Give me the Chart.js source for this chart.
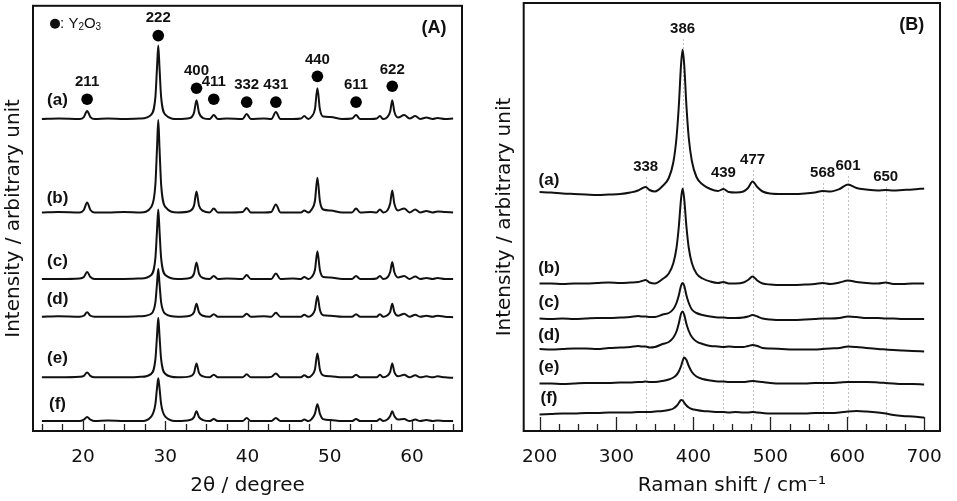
<!DOCTYPE html>
<html lang="en">

<head>
    <meta charset="UTF-8">
    <title>XRD patterns and Raman spectra</title>
    <script src="https://cdn.jsdelivr.net/npm/chart.js"></script>
    <style>
        html, body { margin: 0; padding: 0; background: #fff; }
        .panel { position: absolute; top: 0; height: 501px; }
        #panelA { left: 0; width: 478px; }
        #panelB { left: 478px; width: 479px; }
    </style>
</head>

<body>
    <div class="panel" id="panelA"><canvas id="xrdChart"></canvas></div>
    <div class="panel" id="panelB"><canvas id="ramanChart"></canvas></div>

    <script>
        // ---- (A) XRD, 2theta in degrees, intensity in arbitrary units ----
        const xrdAngle = [15, 17, 19.6, 20.1, 20.5, 20.9, 21.4, 23, 25, 27,
            28.3, 28.8, 29.0, 29.15, 29.3, 29.5, 30.0, 31.5, 33.0, 33.5,
            33.8, 34.1, 34.6, 35.4, 35.9, 36.4, 37.5, 39.4, 39.9, 40.4,
            42, 42.9, 43.45, 44.0, 45.5, 46.5, 46.9, 47.4, 47.8, 48.2,
            48.5, 48.8, 49.2, 50.1, 51.5, 52.7, 53.2, 53.7, 55, 55.7,
            56.1, 56.5, 57.0, 57.35, 57.6, 57.85, 58.3, 59.05, 59.7, 60.4,
            61.0, 61.75, 62.5, 63.1, 64, 65];

        const xrdA = [314, 314.5, 314, 316, 322, 316, 314, 314.5, 314, 314.5,
            318.5, 336, 366, 388, 366, 336, 318.5, 314, 315, 320.5,
            333, 320.5, 315, 314, 318, 314, 314.5, 314, 319, 314,
            314.5, 314, 321, 314, 314, 314.5, 317, 314, 316.5, 324,
            345, 324, 316.5, 316, 314, 314.5, 318, 314, 314, 314.5,
            317, 314, 316, 321.5, 333, 321.5, 315.5, 318, 314.5, 317,
            314, 315.5, 314, 315, 314, 314.5];
        const xrdB = [220, 220.5, 220, 222.5, 230, 222.5, 220, 220, 220.5, 220,
            225.5, 248, 285, 313, 285, 248, 225.5, 220, 221.5, 227,
            241, 227, 221.5, 220, 224, 220, 220, 220.5, 224.5, 220,
            220, 220.5, 228, 220, 220, 220, 222, 220, 223, 231.5,
            255, 231.5, 223, 222, 220, 220, 224, 220, 220.5, 220,
            223, 220, 222, 229, 242, 229, 222, 224, 220, 223,
            220, 221.5, 220, 221, 220.5, 220];
        const xrdC = [153, 153, 153.5, 155, 160, 155, 153, 153, 153, 153.5,
            157, 174, 202, 223, 202, 174, 157, 153, 154, 158.5,
            169.5, 158.5, 154, 153, 156, 153, 153.5, 153, 157, 153,
            153, 153, 158.5, 153, 153.5, 153, 155, 153, 155, 162,
            181, 162, 155, 154.5, 153, 153, 156, 153, 153, 153.5,
            156, 153, 154.5, 160, 170, 160, 154.5, 156, 153, 155.5,
            153, 154, 153, 154, 153, 153];
        const xrdD = [115, 115.5, 115, 116, 119.5, 116, 115, 115, 115, 115.5,
            118, 129.5, 148.5, 163, 148.5, 129.5, 118, 115, 116, 119.5,
            128, 119.5, 116, 115, 117.5, 115, 115, 115, 118, 115,
            115.5, 115, 119, 115, 115, 115, 117, 115, 116.5, 122,
            136, 122, 116.5, 116, 115, 115, 117.5, 115, 115, 115,
            117.5, 115, 116.5, 120, 128, 120, 116, 118, 115, 117,
            115, 116, 115, 116, 115, 114.5];
        const xrdE = [54, 54, 54.5, 55.5, 59, 55.5, 54, 54, 54, 54.5,
            57.5, 72, 96, 114, 96, 72, 57.5, 54, 55, 58.5,
            68, 58.5, 55, 54, 56.5, 54, 54, 54, 57, 54,
            54, 54.5, 58, 54, 54, 54, 56, 54, 56, 62,
            78, 62, 56, 55, 54, 54, 56.5, 54, 54, 54,
            56.5, 54, 55.5, 59.5, 68, 59.5, 55, 56.5, 54, 56,
            54, 55, 54, 55, 54, 53.5];
        const xrdF = [10, 10, 10, 11.5, 14, 11.5, 10, 10.5, 10, 10,
            14.5, 27, 43.5, 53, 43.5, 27, 14.5, 10, 11, 14,
            20, 14, 11, 10, 12, 10, 10, 10, 13, 10,
            10, 10, 13, 10, 10, 10, 11.5, 10, 12, 17.5,
            27, 17.5, 12, 11, 10, 10, 12, 10, 10, 10,
            12, 10, 11.5, 15, 20, 15, 11.5, 12, 10, 11.5,
            10, 11, 10, 10.5, 10, 10];

        const xrdTicks = [20, 30, 40, 50, 60];
        const xrdPeakPos = [20.5, 29.15, 33.8, 35.9, 39.9, 43.45, 48.5, 53.2, 57.6];
        const xrdPeakHkl = ['211', '222', '400', '411', '332', '431', '440', '611', '622'];
        const xrdDotY = [334, 398, 345, 334, 331, 331, 357, 331, 347];
        const xrdLabelY = [351, 416, 363, 351, 348, 348, 374, 348, 364];
        const sampleNames = ['(a)', '(b)', '(c)', '(d)', '(e)', '(f)'];
        const xrdSampleY = [333, 234, 171, 133, 73, 27];
        const legendParts = [[': Y', false], ['2', true], ['O', false], ['3', true]];

        // ---- (B) Raman, shift in cm-1 ----
        const ramanShift = [200, 215, 230, 245, 260, 275, 290, 305, 318, 328,
            333, 338, 343, 350, 360, 368, 374, 378, 381, 384,
            386, 388, 391, 394, 398, 404, 412, 422, 432, 439,
            446, 455, 465, 471, 477, 483, 490, 500, 515, 530,
            545, 558, 568, 578, 590, 601, 612, 625, 640, 650,
            660, 672, 685, 700];

        const ramanA = [239, 238.5, 237.5, 237, 236.5, 236, 236.5, 237, 238.5, 240.5,
            242.5, 244, 241, 239.5, 245, 253, 269, 293, 324.5, 367,
            381.5, 367, 324.5, 293, 270, 254, 246.5, 242, 240, 242,
            239, 238.5, 239.5, 243, 249.5, 244, 239.5, 237.5, 237, 237,
            237.5, 238.5, 240, 239.5, 242, 246.5, 243, 241.5, 240.5, 241,
            240.5, 241, 241.5, 242.5];
        const ramanB = [147.5, 147.5, 147, 147.5, 147.5, 148, 148.5, 148, 148.5, 149,
            150, 151, 148.5, 147.5, 152, 157.5, 168, 183, 204, 232.5,
            242.5, 232.5, 204, 183, 168, 157.5, 152.5, 149.5, 148, 149,
            147.5, 147.5, 148.5, 151, 154.5, 150.5, 147.5, 146.5, 146, 146,
            146.5, 147, 148, 147, 148.5, 150.5, 149, 148, 147.5, 148.5,
            147, 147, 147.5, 147.5];
        const ramanC = [112.5, 112, 112.5, 112, 112.5, 113, 113, 113.5, 114, 115,
            114.5, 114.5, 114, 114, 116.5, 118, 122, 128, 135.5, 145.5,
            148, 145.5, 135.5, 128, 121.5, 118, 116, 114.5, 113.5, 113.5,
            113, 113, 113.5, 114.5, 116, 114.5, 112.5, 111.5, 111, 111,
            111.5, 112, 112.5, 112.5, 113, 114.5, 114, 113, 113, 112.5,
            112.5, 112, 112, 112];
        const ramanD = [82, 81.5, 82, 82.5, 82.5, 82, 83, 83.5, 84, 85,
            84.5, 84.5, 83.5, 84, 87, 89, 93.5, 99.5, 107.5, 117.5,
            119.5, 116.5, 107, 100, 94, 89.5, 87, 85, 84.5, 84,
            84.5, 84, 84, 85, 86, 85, 83, 82.5, 82, 81.5,
            81.5, 81.5, 82, 82.5, 83, 84.5, 84, 83, 82, 81.5,
            81, 80.5, 80, 79.5];
        const ramanE = [47.5, 47.5, 47, 47.5, 48, 48, 48, 48.5, 48.5, 49,
            49, 49.5, 49, 49, 50, 51.5, 53.5, 56, 59.5, 65,
            70, 73.5, 71, 65, 59, 54.5, 52, 50.5, 49.5, 49.5,
            49, 49, 49, 49.5, 50, 49.5, 49, 48, 47.5, 47.5,
            47.5, 48, 48, 48, 48.5, 49, 49, 49, 48.5, 48,
            47.5, 47, 47, 46.5];
        const ramanF = [16.5, 17, 17.5, 17.5, 18, 18, 18.5, 18.5, 18.5, 19,
            19, 19, 19, 19.5, 20, 21, 22.5, 25, 28, 31,
            30.5, 28.5, 25.5, 23.5, 22, 21, 20, 19.5, 19, 19,
            18.5, 19, 18.5, 18.5, 19, 18.5, 18, 17.5, 17.5, 17.5,
            17.5, 18, 18, 18, 18.5, 19.5, 20, 19.5, 18.5, 17.5,
            16, 15, 14.5, 13.5];

        const ramanTicks = [200, 300, 400, 500, 600, 700];
        const ramanPeakPos = [338, 386, 439, 477, 568, 601, 650];
        const ramanPeakText = ['338', '386', '439', '477', '568', '601', '650'];
        const ramanLabelY = [264, 402, 258, 271, 258, 265, 254];
        const ramanSampleY = [251, 162.7, 128.3, 96, 63.7, 32.7];

        Chart.defaults.font.family = '"DejaVu Sans", sans-serif';
        Chart.defaults.color = '#111';

        const boldFont = size => 'bold ' + size + 'px "Liberation Sans", Arial, sans-serif';
        const toPoints = (xs, ys) => xs.map((x, i) => ({ x: x, y: ys[i] }));

        function spectrum(xs, ys) {
            return {
                type: 'line',
                data: toPoints(xs, ys),
                borderColor: '#111',
                borderWidth: 2,
                pointRadius: 0,
                fill: false,
                cubicInterpolationMode: 'monotone'
            };
        }

        // frame, inward ticks, dotted guides and annotations
        const panelDecor = {
            id: 'panelDecor',
            beforeDatasetsDraw(chart, args, o) {
                if (!o.guides) return;
                const { ctx, scales: { x, y } } = chart;
                ctx.save();
                ctx.strokeStyle = '#c2c2c2';
                ctx.lineWidth = 1;
                ctx.setLineDash([2, 2]);
                o.guides.pos.forEach((v, i) => {
                    const px = Math.round(x.getPixelForValue(v)) + 0.5;
                    ctx.beginPath();
                    ctx.moveTo(px, y.getPixelForValue(o.guides.top[i]));
                    ctx.lineTo(px, y.getPixelForValue(11));
                    ctx.stroke();
                });
                ctx.restore();
            },
            afterDraw(chart, args, o) {
                const { ctx, chartArea: a, scales: { x, y } } = chart;
                ctx.save();

                ctx.strokeStyle = '#222';
                ctx.lineWidth = 1.3;
                for (let v = o.tickFrom; v <= o.tickTo + 1e-6; v += o.tickStep) {
                    const px = Math.round(x.getPixelForValue(v)) + 0.5;
                    const len = Math.abs(v % o.majorStep) < 1e-6 ? o.majorLen : o.minorLen;
                    ctx.beginPath();
                    ctx.moveTo(px, a.bottom);
                    ctx.lineTo(px, a.bottom - len);
                    ctx.stroke();
                }

                ctx.strokeStyle = '#111';
                ctx.lineWidth = 2;
                ctx.strokeRect(a.left, a.top, a.right - a.left, a.bottom - a.top);

                ctx.fillStyle = '#111';
                ctx.textAlign = 'center';
                ctx.textBaseline = 'middle';
                ctx.font = boldFont(15);
                o.peaks.pos.forEach((v, i) => {
                    ctx.fillText(o.peaks.text[i], x.getPixelForValue(v), y.getPixelForValue(o.peaks.y[i]));
                });
                ctx.font = boldFont(17);
                sampleNames.forEach((t, i) => {
                    ctx.fillText(t, x.getPixelForValue(o.samples.x), y.getPixelForValue(o.samples.y[i]));
                });
                ctx.font = boldFont(18);
                ctx.fillText(o.tag.text, x.getPixelForValue(o.tag.x), y.getPixelForValue(o.tag.y));

                if (o.legend) {
                    const lx = x.getPixelForValue(o.legend.x);
                    const ly = y.getPixelForValue(o.legend.y);
                    ctx.beginPath();
                    ctx.arc(lx, ly, 5, 0, Math.PI * 2);
                    ctx.fill();
                    ctx.textAlign = 'left';
                    let tx = lx + 5;
                    legendParts.forEach(([t, sub]) => {
                        ctx.font = sub ? '10px "Liberation Sans", Arial, sans-serif'
                            : '15px "Liberation Sans", Arial, sans-serif';
                        ctx.fillText(t, tx, ly + (sub ? 4 : 0));
                        tx += ctx.measureText(t).width;
                    });
                }
                ctx.restore();
            }
        };

        function panelOptions(cfg) {
            return {
                responsive: true,
                maintainAspectRatio: false,
                animation: false,
                layout: { padding: { top: 3, right: cfg.padRight, left: 0, bottom: 0 } },
                plugins: {
                    legend: { display: false },
                    tooltip: { enabled: false },
                    panelDecor: cfg.decor
                },
                scales: {
                    x: {
                        type: 'linear',
                        min: cfg.xMin,
                        max: cfg.xMax,
                        afterBuildTicks: s => { s.ticks = cfg.ticks.map(v => ({ value: v })); },
                        afterFit: s => { s.height = 70; },
                        grid: { display: false, drawTicks: false },
                        border: { display: false },
                        ticks: { padding: 15, autoSkip: false, maxRotation: 0, font: { size: 18.5 } },
                        title: { display: true, text: cfg.xTitle, font: { size: 20 }, padding: { top: 0, bottom: 3 } }
                    },
                    y: {
                        min: 0,
                        max: 428,
                        afterFit: s => { s.width = cfg.yWidth; },
                        ticks: { display: false },
                        grid: { display: false, drawTicks: false },
                        border: { display: false },
                        title: {
                            display: true, text: 'Intensity / arbitrary unit',
                            font: { size: 20 }, padding: { top: cfg.yTitlePad, bottom: 0 }
                        }
                    }
                }
            };
        }

        new Chart(document.getElementById('xrdChart'), {
            type: 'line',
            data: {
                datasets: [
                    spectrum(xrdAngle, xrdA), spectrum(xrdAngle, xrdB), spectrum(xrdAngle, xrdC),
                    spectrum(xrdAngle, xrdD), spectrum(xrdAngle, xrdE), spectrum(xrdAngle, xrdF),
                    {
                        type: 'scatter',
                        data: toPoints(xrdPeakPos, xrdDotY),
                        pointRadius: 5.8,
                        pointBackgroundColor: '#000',
                        pointBorderWidth: 0,
                        showLine: false
                    }
                ]
            },
            options: panelOptions({
                xMin: 13.92, xMax: 66.08, ticks: xrdTicks,
                xTitle: '2θ / degree', yWidth: 33, yTitlePad: 2, padRight: 16,
                decor: {
                    tickFrom: 15, tickTo: 65, tickStep: 2.5, majorStep: 10, majorLen: 10, minorLen: 7,
                    peaks: { pos: xrdPeakPos, text: xrdPeakHkl, y: xrdLabelY },
                    samples: { x: 16.9, y: xrdSampleY },
                    tag: { text: '(A)', x: 62.67, y: 406 },
                    legend: { x: 16.6, y: 410 }
                }
            }),
            plugins: [panelDecor]
        });

        new Chart(document.getElementById('ramanChart'), {
            type: 'line',
            data: {
                datasets: [
                    spectrum(ramanShift, ramanA), spectrum(ramanShift, ramanB), spectrum(ramanShift, ramanC),
                    spectrum(ramanShift, ramanD), spectrum(ramanShift, ramanE), spectrum(ramanShift, ramanF)
                ]
            },
            options: panelOptions({
                xMin: 179.4, xMax: 720.6, ticks: ramanTicks,
                xTitle: 'Raman shift / cm⁻¹', yWidth: 45.7, yTitlePad: 14.4, padRight: 4.7,
                decor: {
                    tickFrom: 200, tickTo: 700, tickStep: 25, majorStep: 100, majorLen: 14, minorLen: 7,
                    peaks: { pos: ramanPeakPos, text: ramanPeakText, y: ramanLabelY },
                    samples: { x: 212.3, y: ramanSampleY },
                    tag: { text: '(B)', x: 684, y: 406 },
                    guides: { pos: ramanPeakPos, top: ramanLabelY.map(v => v - 10) }
                }
            }),
            plugins: [panelDecor]
        });
    </script>
</body>

</html>
